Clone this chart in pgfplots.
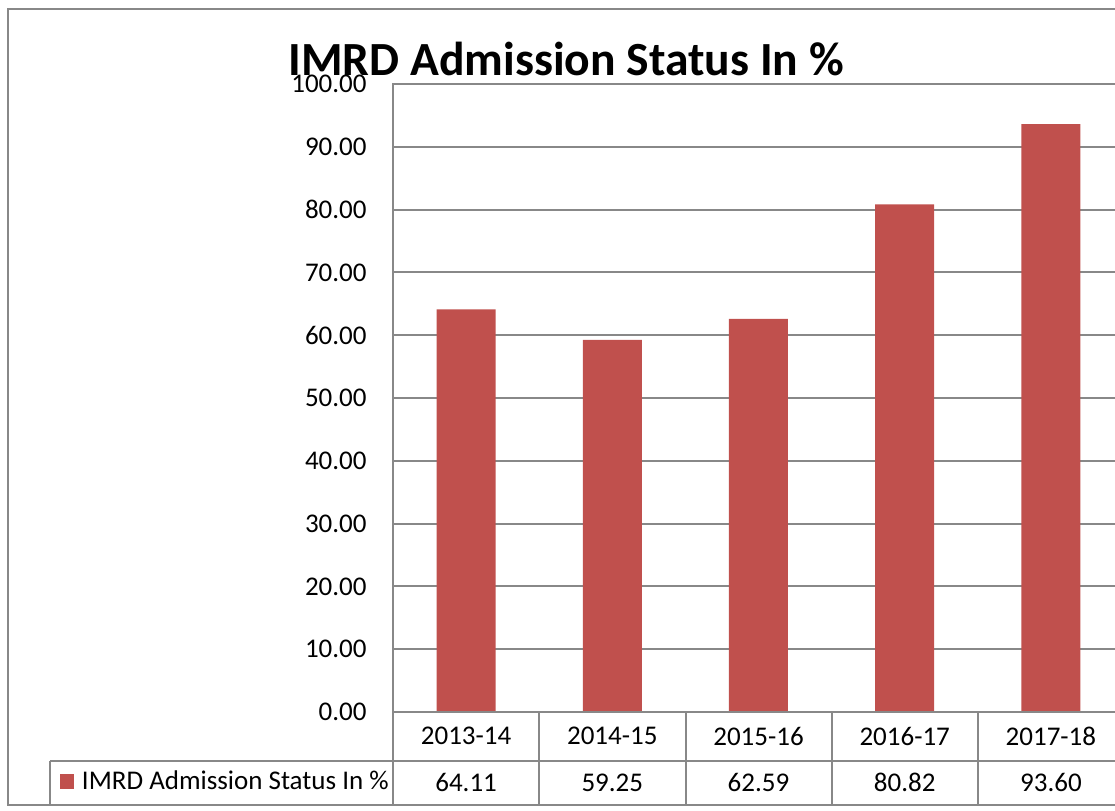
\documentclass[border=0pt]{standalone}
\usepackage{pgfplots}
\pgfplotsset{compat=1.18}
\usepackage{fontspec}
\setmainfont{Carlito}

\definecolor{barRed}{RGB}{192,80,77}
\definecolor{lineGray}{RGB}{136,136,136}

\newcommand{\lblfont}{\fontsize{13.5pt}{16pt}\selectfont}

\begin{document}
\begin{tikzpicture}
% page = 1115 x 810 px, 1 px = 0.5pt, y downwards in the scope
\useasboundingbox (0pt,0pt) rectangle (557.5pt,-405pt);
\clip (0pt,0pt) rectangle (557.5pt,-405pt);

\begin{axis}[
    at={(196.5pt,-356pt)}, anchor=south west,
    scale only axis, width=365.5pt, height=314pt,
    xmin=-0.5, xmax=4.5, ymin=0, ymax=100,
    ybar, bar width=29.5pt,
    xtick={0,1,2,3,4},
    xticklabels={2013-14,2014-15,2015-16,2016-17,2017-18},
    ytick={0,10,...,100},
    major tick length=0pt,
    ymajorgrids,
    grid style={line width=1pt, lineGray},
    axis line style={draw=none},
    tick label style={font=\lblfont, text=black},
    xticklabel style={anchor=center, inner sep=0pt, yshift=-12pt},
    yticklabel style={anchor=east, inner sep=0pt, xshift=-13pt,
      /pgf/number format/.cd, fixed, fixed zerofill, precision=2,
      assume math mode=true},
]
\addplot[fill=barRed, draw=none] coordinates {
    (0,64.11) (1,59.25) (2,62.59) (3,80.82) (4,93.60)};
\end{axis}

\begin{scope}[x=0.5pt, y=-0.5pt, line width=1pt, lineGray]
  % plot area frame (right side lies past the cut)
  \draw (1130,84) -- (393,84) -- (393,712) -- (1130,712);
  % outer chart border
  \draw (1130,9) -- (8,9) -- (8,805) -- (1130,805);
  % data table
  \draw (50,760.7) -- (1130,760.7);
  \draw (50,760.7) -- (50,805);
  \foreach \xx in {393,539.25,685.5,831.75,978}
    \draw (\xx,712) -- (\xx,805);
  % legend key
  \fill[barRed] (60,774) rectangle (74,789);
  \node[anchor=base west, inner sep=0pt, text=black, font=\lblfont]
    at (81,789) {IMRD Admission Status In \%};
  \foreach \xx/\vv in {466.1/64.11, 612.3/59.25, 758.5/62.59, 904.7/80.82, 1050.9/93.60}
    \node[inner sep=0pt, text=black, font=\lblfont] at (\xx,782.5) {\vv};
  % title
  \node[anchor=base, inner sep=0pt, text=black,
        font=\fontsize{23.8pt}{28pt}\selectfont\bfseries]
    at (566,75) {IMRD Admission Status In \%};
\end{scope}
\end{tikzpicture}
\end{document}
